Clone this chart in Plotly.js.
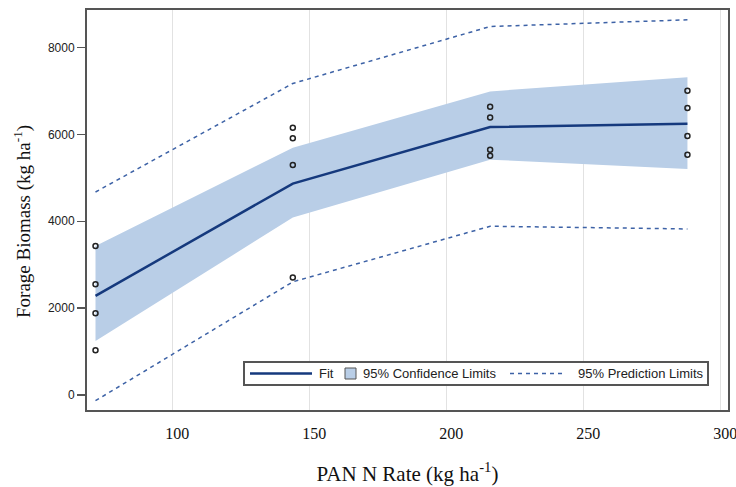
<!DOCTYPE html>
<html>
<head>
<meta charset="utf-8">
<script src="https://cdn.plot.ly/plotly-3.0.1.min.js"></script>
<style>
  html, body { margin: 0; padding: 0; background: #fff; }
  #chart { width: 736px; height: 487px; }
</style>
</head>
<body>
<div id="chart"></div>
<script>
// PAN N rates (kg/ha)
const rates = [72, 144, 216, 288];

// Fitted forage biomass and limits at each rate
const fit = [2283, 4867, 6168, 6246];
const confLower = [1241, 4085, 5418, 5202];
const confUpper = [3432, 5694, 6989, 7317];
const predLower = [-131, 2605, 3885, 3823];
const predUpper = [4674, 7172, 8483, 8637];

// Observed plot values
const obsRate = [72, 72, 72, 72, 144, 144, 144, 144, 216, 216, 216, 216, 288, 288, 288, 288];
const obsBiomass = [3432, 2552, 1885, 1028, 6154, 5908, 5294, 2706, 6636, 6391, 5648, 5510, 7004, 6605, 5961, 5533];

const xTicks = [100, 150, 200, 250, 300];
const yTicks = [0, 2000, 4000, 6000, 8000];
const legendLabels = ['Fit', '95% Confidence Limits', '95% Prediction Limits'];

const fitColor = '#15397d';
const bandColor = '#b9cee7';
const predColor = '#3d62a6';
const sansFont = 'Liberation Sans, Arial, sans-serif';
const serifFont = 'Liberation Serif, Times New Roman, serif';

const traces = [
  {
    x: rates, y: confLower, type: 'scatter', mode: 'lines',
    line: { width: 0, color: bandColor }, hoverinfo: 'skip', showlegend: false
  },
  {
    x: rates, y: confUpper, type: 'scatter', mode: 'lines',
    fill: 'tonexty', fillcolor: bandColor,
    line: { width: 0, color: bandColor }, showlegend: false
  },
  {
    x: rates, y: fit, type: 'scatter', mode: 'lines',
    line: { color: fitColor, width: 2.5 }, showlegend: false
  },
  {
    x: rates, y: predUpper, type: 'scatter', mode: 'lines',
    line: { color: predColor, width: 1.5, dash: '4px,4px' }, showlegend: false
  },
  {
    x: rates, y: predLower, type: 'scatter', mode: 'lines',
    line: { color: predColor, width: 1.5, dash: '4px,4px' }, showlegend: false
  },
  {
    x: obsRate, y: obsBiomass, type: 'scatter', mode: 'markers',
    marker: { symbol: 'circle-open', size: 5, color: '#222', line: { width: 1.5, color: '#222' } },
    showlegend: false
  }
];

// Legend box drawn in paper coordinates (plot area is 641 x 400 px)
const px = v => (v - 87) / 641;
const py = v => (410 - v) / 400;
const midY = py(373.5);

const shapes = [
  { type: 'rect', xref: 'paper', yref: 'paper', x0: px(244), x1: px(708), y0: py(385), y1: py(362),
    line: { color: '#555', width: 2 }, fillcolor: '#fff', layer: 'above' },
  { type: 'line', xref: 'paper', yref: 'paper', x0: px(250), x1: px(312), y0: midY, y1: midY,
    line: { color: fitColor, width: 2.5 }, layer: 'above' },
  { type: 'rect', xref: 'paper', yref: 'paper', x0: px(345), x1: px(356), y0: py(379), y1: py(368),
    line: { color: '#555', width: 1 }, fillcolor: bandColor, layer: 'above' },
  { type: 'line', xref: 'paper', yref: 'paper', x0: px(510), x1: px(564), y0: midY, y1: midY,
    line: { color: predColor, width: 1.5, dash: '4px,4px' }, layer: 'above' }
];

const legendX = [317, 361, 576];
const annotations = legendLabels.map((t, i) => ({
  text: t, xref: 'paper', yref: 'paper', x: px(legendX[i]), y: midY,
  xanchor: 'left', yanchor: 'middle', showarrow: false,
  font: { family: sansFont, size: 13, color: '#222' }
}));

// Vertical axis title, placed beside the tick labels
annotations.push({
  text: 'Forage Biomass (kg ha<sup>-1</sup>)', xref: 'paper', yref: 'paper',
  x: px(22), y: py(222), xanchor: 'center', yanchor: 'middle', textangle: -90,
  showarrow: false, font: { family: serifFont, size: 19, color: '#111' }
});

const layout = {
  width: 736, height: 487,
  margin: { l: 87, r: 8, t: 10, b: 77 },
  paper_bgcolor: '#fff', plot_bgcolor: '#fff',
  showlegend: false,
  shapes: shapes,
  annotations: annotations,
  xaxis: {
    range: [68.9, 302.8],
    tickvals: xTicks, ticktext: xTicks.map(String),
    showgrid: true, gridcolor: '#e2e2e2', gridwidth: 1,
    zeroline: false,
    showline: true, linecolor: '#555', linewidth: 2, mirror: true,
    ticks: '', ticklabelstandoff: 8, ticklabelshift: 5, ticklabeloverflow: 'allow',
    tickfont: { family: serifFont, size: 16, color: '#111' },
    title: {
      text: 'PAN N Rate (kg ha<sup>-1</sup>)', standoff: 25,
      font: { family: serifFont, size: 21, color: '#111' }
    }
  },
  yaxis: {
    range: [-345, 8863],
    tickvals: yTicks, ticktext: yTicks.map(String),
    showgrid: false, zeroline: false,
    showline: true, linecolor: '#555', linewidth: 2, mirror: true,
    ticks: 'outside', ticklen: 8, tickcolor: '#555', tickwidth: 1.5,
    tickfont: { family: sansFont, size: 12, color: '#222' }
  }
};

Plotly.newPlot('chart', traces, layout, { displayModeBar: false, staticPlot: true });
</script>
</body>
</html>
